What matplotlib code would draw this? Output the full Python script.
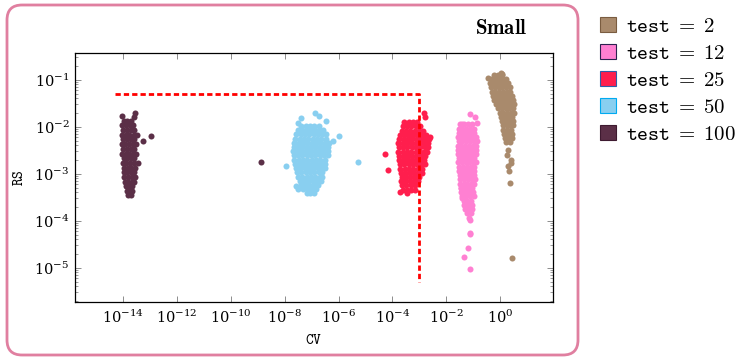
# RS vs CV scatter, one cloud per test size
import numpy as np
import matplotlib.pyplot as plt
from matplotlib import ticker
from matplotlib.patches import FancyBboxPatch, Patch
from matplotlib.transforms import IdentityTransform

plt.rcParams['mathtext.fontset'] = 'cm'
plt.rcParams['font.family'] = 'serif'
plt.rcParams['font.serif'] = ['DejaVu Serif']

# data, stored as log10 values: rows of (log RS, [log CV, ...]) plus stray points (log CV, log RS)
tests = [2, 12, 25, 50, 100]
colors = ['#a98a6c', '#ff80d2', '#ff1e4d', '#89cff0', '#5b2f47']
edges = ['#7a5c40', '#2c2250', '#2f5fa8', '#00aaf0', '#3e1a30']

rows_2 = [
    (-0.90, [-0.22, -0.08, 0.06]),
    (-0.98, [-0.34, -0.20, -0.06, 0.08, 0.22]),
    (-1.07, [-0.36, -0.22, -0.08, 0.06, 0.20, 0.30]),
    (-1.16, [-0.34, -0.20, -0.06, 0.08, 0.22, 0.36]),
    (-1.25, [-0.32, -0.18, -0.04, 0.10, 0.24, 0.38]),
    (-1.34, [-0.28, -0.14, 0.00, 0.14, 0.28, 0.42]),
    (-1.43, [-0.22, -0.08, 0.06, 0.20, 0.34, 0.46]),
    (-1.52, [-0.16, -0.02, 0.12, 0.26, 0.40, 0.50]),
    (-1.61, [-0.08, 0.06, 0.20, 0.34, 0.48]),
    (-1.70, [-0.02, 0.12, 0.26, 0.40, 0.50]),
    (-1.79, [0.02, 0.16, 0.30, 0.44]),
    (-1.88, [0.06, 0.20, 0.34, 0.46]),
    (-1.97, [0.10, 0.24, 0.38, 0.48]),
    (-2.06, [0.12, 0.26, 0.40]),
    (-2.15, [0.14, 0.28, 0.42]),
    (-2.24, [0.18, 0.32, 0.44]),
    (-2.33, [0.22, 0.36]),
]
extra_2 = [(-0.44, -0.96), (0.07, -0.87), (0.03, -0.85), (0.30, -2.49), (0.26, -2.60),
           (0.41, -2.70), (0.41, -2.77), (0.30, -2.83), (0.33, -2.94), (0.37, -3.19),
           (0.44, -4.79)]

rows_12 = [
    (-1.95, [-1.50, -1.36, -1.20, -1.05]),
    (-2.04, [-1.54, -1.40, -1.26, -1.12, -0.98]),
    (-2.13, [-1.52, -1.38, -1.24, -1.10, -0.96]),
    (-2.22, [-1.56, -1.42, -1.28, -1.14, -1.00, -0.88]),
    (-2.31, [-1.54, -1.40, -1.26, -1.12, -0.98, -0.86]),
    (-2.40, [-1.58, -1.44, -1.30, -1.16, -1.02, -0.90]),
    (-2.49, [-1.56, -1.42, -1.28, -1.14, -1.00, -0.88]),
    (-2.58, [-1.58, -1.44, -1.30, -1.16, -1.02, -0.90]),
    (-2.67, [-1.54, -1.40, -1.26, -1.12, -0.98]),
    (-2.76, [-1.56, -1.42, -1.28, -1.14, -1.00, -0.88]),
    (-2.85, [-1.52, -1.38, -1.24, -1.10, -0.96]),
    (-2.94, [-1.54, -1.40, -1.26, -1.12, -0.98]),
    (-3.03, [-1.50, -1.36, -1.22, -1.08, -0.96]),
    (-3.12, [-1.48, -1.34, -1.20, -1.06, -0.94]),
    (-3.21, [-1.50, -1.36, -1.22, -1.08, -0.98]),
    (-3.30, [-1.46, -1.32, -1.18, -1.04]),
    (-3.39, [-1.44, -1.30, -1.16, -1.02]),
    (-3.48, [-1.40, -1.26, -1.12, -0.98]),
    (-3.57, [-1.36, -1.22, -1.08]),
    (-3.66, [-1.34, -1.20, -1.06]),
    (-3.75, [-1.30, -1.16, -1.04]),
    (-3.83, [-1.24, -1.10]),
]
extra_12 = [(-1.11, -1.72), (-0.93, -1.79), (-0.85, -1.91), (-1.41, -1.94),
            (-1.44, -3.30), (-1.41, -3.51), (-1.15, -3.95), (-1.11, -3.99),
            (-1.11, -4.26), (-1.13, -4.29), (-1.19, -4.57), (-1.33, -4.77),
            (-1.11, -5.02)]

rows_25 = [
    (-1.90, [-3.56, -3.40, -3.24, -3.08]),
    (-1.99, [-3.62, -3.46, -3.30, -3.14, -2.98]),
    (-2.08, [-3.66, -3.50, -3.34, -3.18, -3.02, -2.88]),
    (-2.17, [-3.72, -3.56, -3.40, -3.24, -3.08, -2.92, -2.76]),
    (-2.26, [-3.74, -3.58, -3.42, -3.26, -3.10, -2.94, -2.78, -2.66]),
    (-2.35, [-3.78, -3.62, -3.46, -3.30, -3.14, -2.98, -2.82, -2.68]),
    (-2.44, [-3.76, -3.60, -3.44, -3.28, -3.12, -2.96, -2.80, -2.68]),
    (-2.53, [-3.78, -3.62, -3.46, -3.30, -3.14, -2.98, -2.82, -2.70]),
    (-2.62, [-3.74, -3.58, -3.42, -3.26, -3.10, -2.94, -2.78]),
    (-2.71, [-3.76, -3.60, -3.44, -3.28, -3.12, -2.96, -2.82]),
    (-2.80, [-3.72, -3.56, -3.40, -3.24, -3.08, -2.92, -2.80]),
    (-2.89, [-3.70, -3.54, -3.38, -3.22, -3.06, -2.92]),
    (-2.98, [-3.68, -3.52, -3.36, -3.20, -3.04, -2.90]),
    (-3.07, [-3.66, -3.50, -3.34, -3.18, -3.02]),
    (-3.16, [-3.68, -3.52, -3.36, -3.20, -3.06]),
    (-3.25, [-3.64, -3.48, -3.32, -3.16]),
    (-3.34, [-3.62, -3.46, -3.30, -3.18]),
]
extra_25 = [(-4.26, -2.57), (-4.15, -2.91), (-2.81, -1.70), (-2.78, -1.79),
            (-2.59, -2.21), (-3.72, -3.38), (-3.44, -3.40)]

rows_50 = [
    (-1.98, [-7.38, -7.22, -7.06, -6.90, -6.74]),
    (-2.07, [-7.50, -7.34, -7.18, -7.02, -6.86, -6.70, -6.56]),
    (-2.16, [-7.56, -7.40, -7.24, -7.08, -6.92, -6.76, -6.60, -6.46]),
    (-2.25, [-7.60, -7.44, -7.28, -7.12, -6.96, -6.80, -6.64, -6.48]),
    (-2.34, [-7.64, -7.48, -7.32, -7.16, -7.00, -6.84, -6.68, -6.52, -6.36]),
    (-2.43, [-7.66, -7.50, -7.34, -7.18, -7.02, -6.86, -6.70, -6.54, -6.38]),
    (-2.52, [-7.68, -7.52, -7.36, -7.20, -7.04, -6.88, -6.72, -6.56, -6.40]),
    (-2.61, [-7.66, -7.50, -7.34, -7.18, -7.02, -6.86, -6.70, -6.54, -6.40]),
    (-2.70, [-7.64, -7.48, -7.32, -7.16, -7.00, -6.84, -6.68, -6.52]),
    (-2.79, [-7.62, -7.46, -7.30, -7.14, -6.98, -6.82, -6.66, -6.50]),
    (-2.88, [-7.58, -7.42, -7.26, -7.10, -6.94, -6.78, -6.62, -6.50]),
    (-2.97, [-7.54, -7.38, -7.22, -7.06, -6.90, -6.74, -6.60]),
    (-3.06, [-7.50, -7.34, -7.18, -7.02, -6.86, -6.70, -6.60]),
    (-3.15, [-7.44, -7.28, -7.12, -6.96, -6.80, -6.66]),
    (-3.24, [-7.40, -7.24, -7.08, -6.92, -6.78]),
    (-3.33, [-7.30, -7.14, -6.98, -6.84]),
    (-3.42, [-7.18, -7.04, -6.90]),
]
extra_50 = [(-6.89, -1.70), (-6.74, -1.77), (-6.48, -1.87), (-7.41, -1.81),
            (-7.52, -1.91), (-6.00, -2.19), (-6.22, -2.30), (-6.41, -2.40),
            (-7.96, -2.83), (-5.26, -2.74), (-7.56, -3.26), (-7.52, -3.32)]

rows_100 = [
    (-1.88, [-13.98, -13.85, -13.72]),
    (-1.97, [-14.02, -13.88, -13.75, -13.62]),
    (-2.07, [-14.00, -13.86, -13.72, -13.58]),
    (-2.17, [-14.03, -13.90, -13.76, -13.60, -13.48]),
    (-2.27, [-14.00, -13.86, -13.72, -13.58]),
    (-2.37, [-14.05, -13.92, -13.78, -13.64, -13.52]),
    (-2.47, [-14.00, -13.86, -13.72, -13.58]),
    (-2.57, [-14.03, -13.90, -13.76, -13.62, -13.50]),
    (-2.67, [-13.98, -13.85, -13.72, -13.58]),
    (-2.77, [-14.00, -13.88, -13.74, -13.60, -13.46]),
    (-2.87, [-13.96, -13.83, -13.70, -13.57]),
    (-2.97, [-13.98, -13.85, -13.72, -13.58]),
    (-3.07, [-13.95, -13.82, -13.68, -13.55]),
    (-3.17, [-13.92, -13.80, -13.67, -13.58]),
    (-3.27, [-13.90, -13.78, -13.66]),
    (-3.37, [-13.86, -13.76, -13.66]),
    (-3.45, [-13.82, -13.70]),
]
extra_100 = [(-13.56, -1.70), (-13.59, -1.79), (-12.96, -2.19), (-13.26, -2.30),
             (-14.04, -1.77), (-8.89, -2.74)]

clouds = [(rows_2, extra_2), (rows_12, extra_12), (rows_25, extra_25),
          (rows_50, extra_50), (rows_100, extra_100)]

# dashed threshold path
thr_cv = [5e-15, 1e-3, 1e-3]
thr_rs = [5e-2, 5e-2, 5e-6]


def unpack(rows, extra):
    lx, ly = [], []
    for y, xs in rows:
        lx += xs
        ly += [y] * len(xs)
    for x, y in extra:
        lx.append(x)
        ly.append(y)
    return 10.0 ** np.array(lx), 10.0 ** np.array(ly)


fig = plt.figure(figsize=(7.38, 3.58), dpi=100)
ax = fig.add_axes([75 / 738, 56 / 358, 478 / 738, 249 / 358])

ax.plot(thr_cv, thr_rs, color='#ff0000', lw=2.0, dashes=(1.9, 1.1), zorder=3)

for (rows, extra), c in zip(clouds, colors):
    cv, rs = unpack(rows, extra)
    ax.scatter(cv, rs, s=19, color=c, linewidths=0, zorder=2)

ax.set_xscale('log')
ax.set_yscale('log')
ax.set_xlim(10 ** -15.78, 10 ** 1.96)
ax.set_ylim(10 ** -5.73, 10 ** -0.43)

ax.xaxis.set_major_locator(ticker.FixedLocator([10.0 ** k for k in range(-14, 1, 2)]))
ax.xaxis.set_minor_locator(ticker.NullLocator())
ax.yaxis.set_major_locator(ticker.LogLocator(base=10))
ax.yaxis.set_minor_locator(ticker.LogLocator(base=10, subs=np.arange(2, 10)))

ax.tick_params(which='both', direction='in', top=True, right=True, color='#8c8c8c',
               labelsize=10.5)
ax.tick_params(which='major', length=4, width=0.7)
ax.tick_params(which='minor', length=2.2, width=0.6)
ax.tick_params(axis='y', pad=4)
ax.tick_params(axis='x', pad=5)
for sp in ax.spines.values():
    sp.set_linewidth(0.9)
    sp.set_color('black')

ax.set_xlabel(r'$\mathtt{CV}$', fontsize=10.5, labelpad=5)
ax.set_ylabel(r'$\mathtt{RS}$', fontsize=10.5, labelpad=6)

# rounded frame around the plot
frame = FancyBboxPatch((7, 3), 571, 350, boxstyle='round,pad=0,rounding_size=15',
                       transform=IdentityTransform(), facecolor='none',
                       edgecolor='#e07fa0', linewidth=2.0)
fig.add_artist(frame)

fig.text(501 / 738, 1 - 28 / 358, r'$\mathbf{Small}$', ha='center', va='center',
         fontsize=15)

handles = [Patch(facecolor=c, edgecolor=e, linewidth=0.8) for c, e in zip(colors, edges)]
labels = [r'$\mathtt{test}\;=\;%d$' % t for t in tests]
fig.legend(handles, labels, loc='upper left', bbox_to_anchor=(600 / 738, 1 - 17 / 358),
           frameon=False, fontsize=15, handlelength=0.75, handleheight=0.75,
           handletextpad=0.5, labelspacing=0.38, borderaxespad=0, borderpad=0)

fig.savefig('out.png', dpi=100)
